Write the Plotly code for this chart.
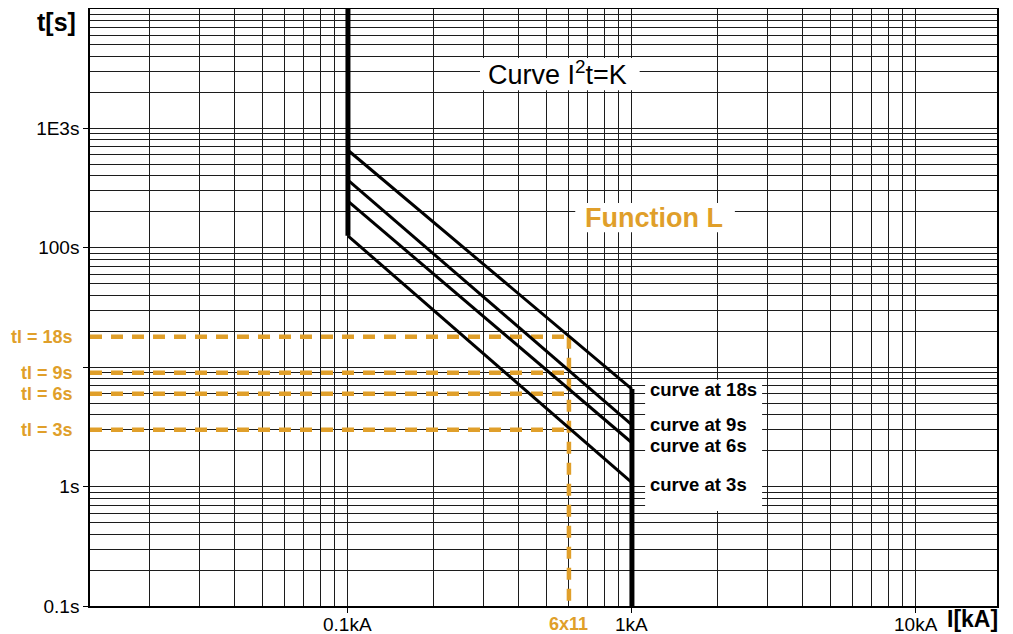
import math
import plotly.graph_objects as go

FONT = "Liberation Sans, Arial, Helvetica, sans-serif"
ORANGE = "#E09F2A"
GRID = "#1c1c1c"

# axis ranges and ticks
x_range_kA = [0.01235, 19.3]
y_range_s = [0.1, 10000]
x_tick_vals = [0.1, 1, 10]
x_tick_text = ["0.1kA", "1kA", "10kA"]
y_tick_vals = [0.1, 1, 10, 100, 1000]
y_tick_text = ["0.1s", "1s", "", "100s", "1E3s"]

# function L curves (I in kA, t in s)
i_start = 0.1
i_end = 1.0
tl_values = [18, 9, 6, 3]
tl_labels = ["tl = 18s", "tl = 9s", "tl = 6s", "tl = 3s"]
curve_labels = ["curve at 18s", "curve at 9s", "curve at 6s", "curve at 3s"]
t_at_start = [656, 369, 246, 126]
t_at_end = [6.56, 3.29, 2.33, 1.08]

# 6 x I1 reference current
i_6x = 0.6
i_6x_label = "6x11"

fig = go.Figure()

# 1) lineas de referencia naranjas
for tl in tl_values:
    fig.add_trace(go.Scatter(
        x=[x_range_kA[0], i_6x], y=[tl, tl], mode="lines",
        line=dict(color=ORANGE, width=4.5, dash="12px,9px"),
        hoverinfo="skip", showlegend=False,
    ))
fig.add_trace(go.Scatter(
    x=[i_6x, i_6x], y=[max(tl_values), y_range_s[0]], mode="lines",
    line=dict(color=ORANGE, width=4.5, dash="12px,9px"),
    hoverinfo="skip", showlegend=False,
))

# 2) curva principal
fig.add_trace(go.Scatter(
    x=[i_start, i_start], y=[y_range_s[1], min(t_at_start)], mode="lines",
    line=dict(color="black", width=5), hoverinfo="skip", showlegend=False,
))
for t0, t1 in zip(t_at_start, t_at_end):
    fig.add_trace(go.Scatter(
        x=[i_start, i_end], y=[t0, t1], mode="lines",
        line=dict(color="black", width=3), hoverinfo="skip", showlegend=False,
    ))
fig.add_trace(go.Scatter(
    x=[i_end, i_end], y=[max(t_at_end), y_range_s[0]], mode="lines",
    line=dict(color="black", width=5), hoverinfo="skip", showlegend=False,
))

# 3) ejes
axis_common = dict(
    type="log",
    tickmode="array",
    ticks="outside", ticklen=5, tickwidth=1, tickcolor="black",
    showgrid=True, gridcolor=GRID, gridwidth=1,
    minor=dict(dtick="D1", showgrid=True, gridcolor=GRID, gridwidth=1, ticks=""),
    showline=True, linecolor="black", linewidth=1.5, mirror=True,
    zeroline=False, automargin=False,
    tickfont=dict(family=FONT, size=19, color="black"),
)
# las etiquetas del eje x van como anotaciones (quedan mas pegadas al eje)
fig.update_xaxes(
    range=[math.log10(x_range_kA[0]), math.log10(x_range_kA[1])],
    tickvals=x_tick_vals, ticktext=x_tick_text, showticklabels=False,
    **axis_common,
)
fig.update_yaxes(
    range=[math.log10(y_range_s[0]), math.log10(y_range_s[1])],
    tickvals=y_tick_vals, ticktext=y_tick_text, **axis_common,
)

# 4) cajas blancas detras de los textos (no tocan ninguna curva)
boxes = [
    (0.430, 0.864, 0.606, 0.918),
    (0.535, 0.626, 0.711, 0.675),
    (0.612, 0.159, 0.741, 0.379),
]
for x0, y0, x1, y1 in boxes:
    fig.add_shape(type="rect", xref="paper", yref="paper",
                  x0=x0, y0=y0, x1=x1, y1=y1,
                  fillcolor="white", line_width=0, layer="above")

# 5) textos
ann = []
for v, lbl in zip(x_tick_vals, x_tick_text):
    ann.append(dict(x=math.log10(v), xref="x", y=0, yref="paper",
                    xanchor="center", yanchor="top", yshift=-6, showarrow=False,
                    text=lbl, font=dict(family=FONT, size=19, color="black")))
for tl, lbl in zip(tl_values, tl_labels):
    ann.append(dict(x=-0.0165, xref="paper", y=math.log10(tl), yref="y",
                    xanchor="right", yanchor="middle", showarrow=False,
                    text=f"<b>{lbl}</b>",
                    font=dict(family=FONT, size=18, color=ORANGE)))
label_shift = [0, 0, -3, -2]
for t1, lbl, dy in zip(t_at_end, curve_labels, label_shift):
    ann.append(dict(x=math.log10(i_end), xref="x", y=math.log10(t1), yref="y",
                    xanchor="left", yanchor="middle", xshift=16, yshift=dy,
                    showarrow=False, text=f"<b>{lbl}</b>",
                    font=dict(family=FONT, size=18.5, color="black")))
ann.append(dict(x=math.log10(i_6x), xref="x", y=0, yref="paper",
                xanchor="center", yanchor="top", yshift=-6, showarrow=False,
                text=f"<b>{i_6x_label}</b>",
                font=dict(family=FONT, size=18, color=ORANGE)))
ann.append(dict(x=0.515, xref="paper", y=0.893, yref="paper",
                xanchor="center", yanchor="middle", showarrow=False,
                text="Curve I<sup>2</sup>t=K",
                font=dict(family=FONT, size=27, color="black")))
ann.append(dict(x=0.622, xref="paper", y=0.650, yref="paper",
                xanchor="center", yanchor="middle", showarrow=False,
                text="<b>Function L</b>",
                font=dict(family=FONT, size=27, color=ORANGE)))
ann.append(dict(x=-0.013, xref="paper", y=0.978, yref="paper",
                xanchor="right", yanchor="middle", showarrow=False,
                text="<b>t[s]</b>",
                font=dict(family=FONT, size=25, color="black")))
ann.append(dict(x=1.003, xref="paper", y=-0.021, yref="paper",
                xanchor="right", yanchor="middle", showarrow=False,
                text="<b>I[kA]</b>",
                font=dict(family=FONT, size=23, color="black")))

# la pagina tiene 8px de margen en el body: se compensa en tamaño y margenes
fig.update_layout(
    width=1005, height=626,
    paper_bgcolor="white", plot_bgcolor="white",
    margin=dict(l=82, r=16, t=1, b=28),
    showlegend=False,
    annotations=ann,
    font=dict(family=FONT, color="black"),
)

fig.write_html("out.html")
